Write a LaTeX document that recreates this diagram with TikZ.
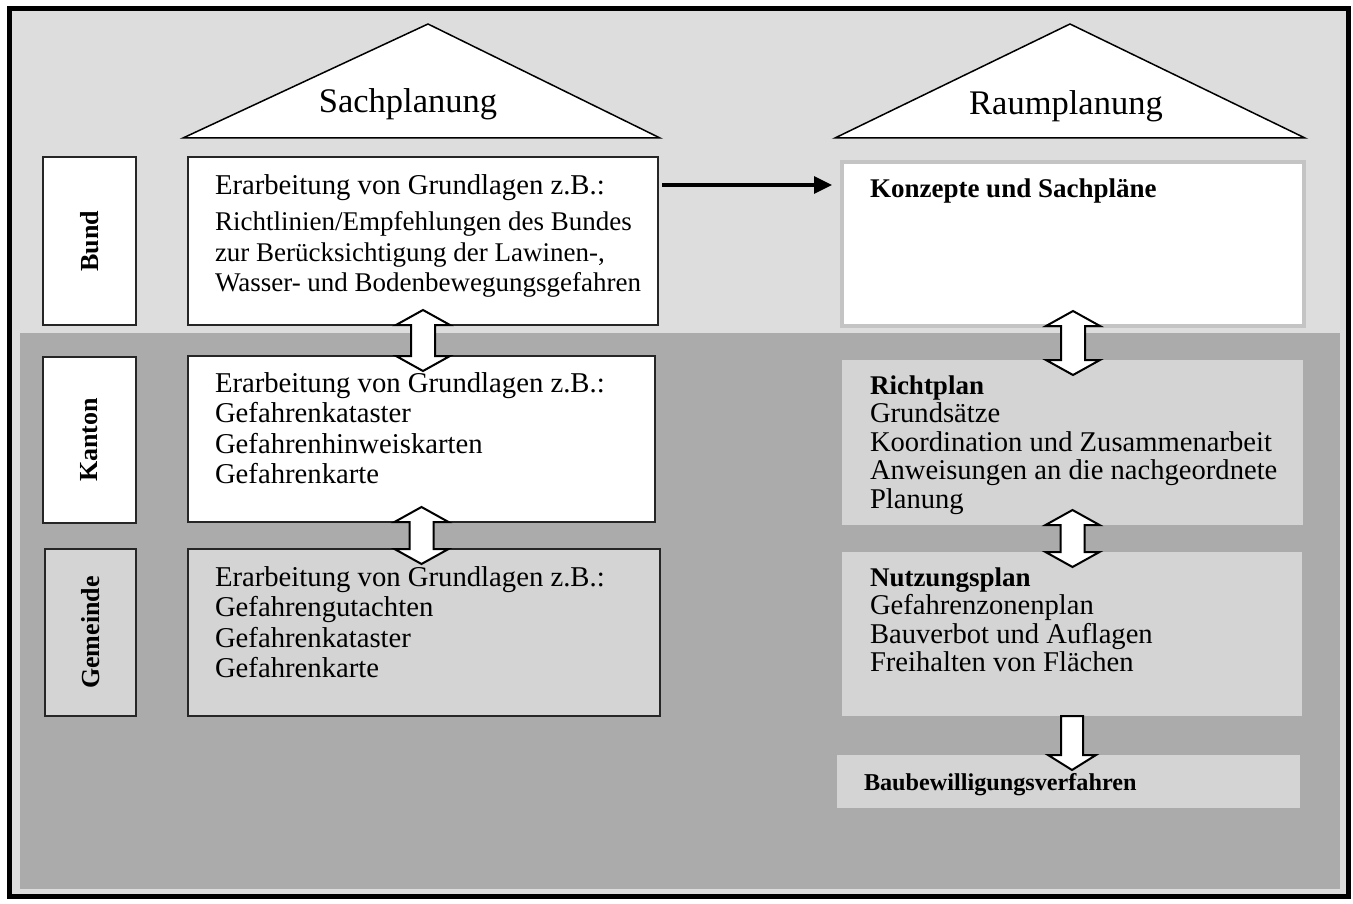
\documentclass[tikz,border=0pt]{standalone}
\usepackage{fontspec}
\setmainfont{Liberation Serif}
\usetikzlibrary{arrows.meta,calc}
\definecolor{bglight}{HTML}{DDDDDD}
\definecolor{bgdark}{HTML}{ABABAB}
\definecolor{boxgray}{HTML}{D4D4D4}
\definecolor{kzborder}{HTML}{C4C4C4}
\newcommand\fs{\rule{0pt}{20pt}}
\newcommand\bigline{\fontsize{28.7}{30.5}\selectfont}
\newcommand\hollowdbl[2]{%
  \draw[hollow] let \p1=(#1.south), \p2=(#2.north) in
   (\x1,\y1+15pt) -- (\x1+27pt,\y1) -- (\x1+12pt,\y1) -- (\x1+12pt,\y2)
   -- (\x1+27pt,\y2) -- (\x1,\y2-15pt) -- (\x1-27pt,\y2) -- (\x1-12pt,\y2)
   -- (\x1-12pt,\y1) -- (\x1-27pt,\y1) -- cycle;}
\begin{document}
\begin{tikzpicture}[x=1pt,y=-1pt,
  every node/.style={inner sep=0pt, outer sep=0pt},
  body/.style={font=\fontsize{28.7}{30.5}\selectfont, align=left, anchor=north west},
  bodyr/.style={font=\fontsize{28.6}{28.5}\selectfont, align=left, anchor=north west},
  title/.style={font=\fontsize{34.5}{40}\selectfont},
  lbl/.style={draw=black!85, line width=1.2pt, font=\fontsize{26}{30}\selectfont\bfseries, anchor=north west},
  sbox/.style={draw=black!85, line width=1.2pt, anchor=north west},
  rbox/.style={fill=boxgray, anchor=north west},
  hollow/.style={draw=black, fill=white, line width=2pt, line join=miter},
  blk/.style={line width=3.2pt, -{Triangle[length=18pt,width=17pt]}},
  tri/.style={draw=black, fill=white, line width=1.5pt, line join=miter}]
\useasboundingbox (0,0) rectangle (1353,904);
\fill[white] (0,0) rectangle (1353,904);
\fill[bglight] (9,8) rectangle (1348,896);
\fill[bgdark] (20,333) rectangle (1340,889);
\draw[line width=5pt] (9.5,8.5) rectangle (1348,896);
% roofs
\draw[tri] (183,138) -- (428,24) -- (660,138) -- cycle;
\draw[tri] (835,138) -- (1070,24) -- (1305,138) -- cycle;
\node[title] (ts) at (408,104) {Sachplanung};
\node[title] (tr) at (1066,106) {Raumplanung};
% level labels
\node[lbl, fill=white, minimum width=93pt, minimum height=168pt] (lb) at (43,157) {\rotatebox{90}{Bund}};
\node[lbl, fill=white, minimum width=93pt, minimum height=166pt] (lk) at (43,357) {\rotatebox{90}{Kanton}};
\node[lbl, fill=boxgray, minimum width=91pt, minimum height=167pt] (lg) at (45,549) {\rotatebox{90}{Gemeinde}};
% Sachplanung boxes
\node[sbox, fill=white, minimum width=470pt, minimum height=168pt] (sb) at (188,157) {};
\node[sbox, fill=white, minimum width=467pt, minimum height=166pt] (sk) at (188,356) {};
\node[sbox, fill=boxgray, minimum width=472pt, minimum height=167pt] (sg) at (188,549) {};
\node[body, font=\fontsize{27}{31}\selectfont] (tsb) at (215,174) {\fs{\bigline Erarbeitung von Grundlagen z.B.:}\\[5pt]
Richtlinien/Empfehlungen des Bundes\\ zur Berücksichtigung der Lawinen-,\\ Wasser- und Bodenbewegungsgefahren};
\node[body] (tsk) at (215,372) {\fs Erarbeitung von Grundlagen z.B.:\\ Gefahrenkataster\\ Gefahrenhinweiskarten\\ Gefahrenkarte};
\node[body] (tsg) at (215,566) {\fs Erarbeitung von Grundlagen z.B.:\\ Gefahrengutachten\\ Gefahrenkataster\\ Gefahrenkarte};
% Raumplanung boxes
\node[draw=kzborder, line width=4pt, fill=white, anchor=north west, minimum width=462pt, minimum height=164pt] (kz) at (842,162) {};
\node[rbox, minimum width=461pt, minimum height=165pt] (rp) at (842,360) {};
\node[rbox, minimum width=460pt, minimum height=164pt] (np) at (842,552) {};
\node[rbox, minimum width=463pt, minimum height=53pt] (bz) at (837,755) {};
\node[bodyr, font=\fontsize{27}{28.5}\selectfont] (tkz) at (870,178) {\fs\bfseries Konzepte und Sachpläne};
\node[bodyr] (trp) at (870,374) {\fs{\fontsize{27}{28.5}\selectfont\bfseries Richtplan}\\ Grundsätze\\ Koordination und Zusammenarbeit\\ Anweisungen an die nachgeordnete\\ Planung};
\node[bodyr] (tnp) at (870,566) {\fs{\fontsize{27}{28.5}\selectfont\bfseries Nutzungsplan}\\ Gefahrenzonenplan\\ Bauverbot und Auflagen\\ Freihalten von Flächen};
\node[bodyr, font=\fontsize{24.2}{28}\selectfont] (tbz) at (864,770) {\fs\bfseries Baubewilligungsverfahren};
% connectors
\coordinate (as) at ([xshift=4pt,yshift=-28pt]sb.north east);
\draw[blk, shorten >=10pt] (as) -- (as -| kz.west);
\hollowdbl{sb}{sk}
\hollowdbl{sk}{sg}
\hollowdbl{kz}{rp}
\hollowdbl{rp}{np}
\draw[hollow] let \p1=(np.south), \p2=(bz.north) in
   (\x1+11pt,\y1) -- (\x1+11pt,\y2) -- (\x1+24pt,\y2) -- (\x1,\y2-15pt)
   -- (\x1-24pt,\y2) -- (\x1-11pt,\y2) -- (\x1-11pt,\y1) -- cycle;
\end{tikzpicture}
\end{document}
